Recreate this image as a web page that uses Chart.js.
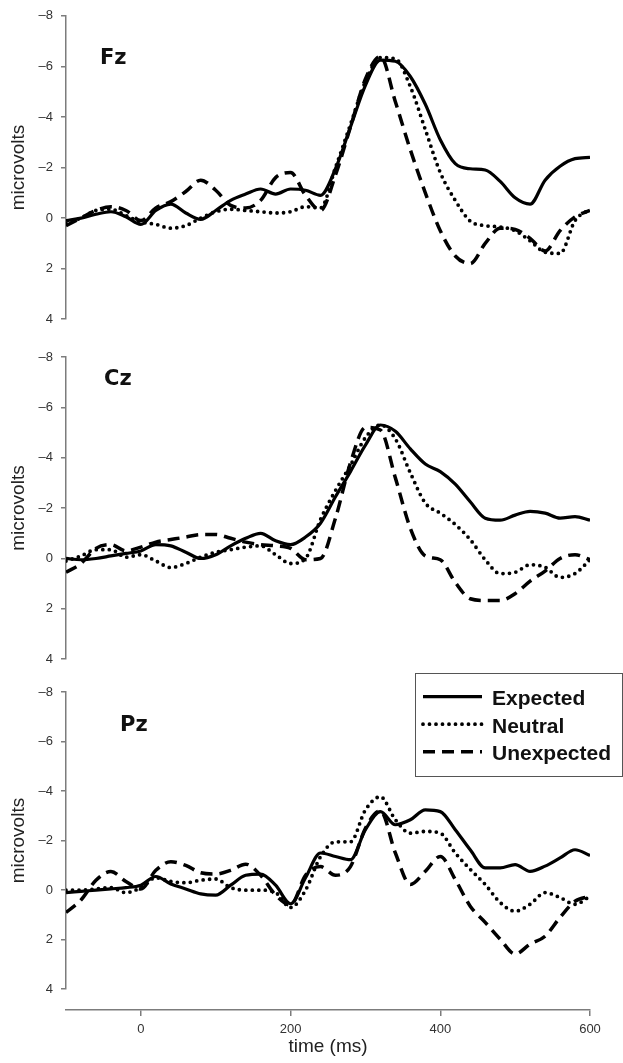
<!DOCTYPE html>
<html>
<head>
<meta charset="utf-8">
<title>ERP waveforms at Fz, Cz and Pz</title>
<script src="https://cdn.jsdelivr.net/npm/chart.js@4.4.1/dist/chart.umd.min.js"></script>
<style>
  body { margin: 0; background: #fff; }
  #wrap { position: relative; width: 623px; height: 1063px; overflow: hidden; }
  #wrap canvas { position: absolute; left: 0; }
</style>
</head>
<body>
<div id="wrap">
  <canvas id="fz" width="623" height="335" style="top:0px"></canvas>
  <canvas id="cz" width="623" height="335" style="top:340px"></canvas>
  <canvas id="pz" width="623" height="337" style="top:668px"></canvas>
  <canvas id="timeAxis" width="623" height="58" style="top:1005px"></canvas>
</div>
<script>
// sample times in ms (one reading every 20 ms)
var times = [-100, -80, -60, -40, -20, 0, 20, 40, 60, 80, 100, 120, 140, 160, 180, 200, 220, 240,
             260, 280, 300, 320, 340, 360, 380, 400, 420, 440, 460, 480, 500, 520, 540, 560, 580, 600];

var conditions = ['Expected', 'Neutral', 'Unexpected'];
var yTicks = [-8, -6, -4, -2, 0, 2, 4];
var xTicks = [0, 200, 400, 600];

// Fz (microvolts)
var fzExpected   = [0.1, 0.0, -0.15, -0.25, -0.05, 0.25, -0.3, -0.55, -0.2, 0.05, -0.3, -0.7, -0.95, -1.15, -0.95, -1.15, -1.1, -0.9,
                    -1.95, -3.6, -5.25, -6.25, -6.2, -5.6, -4.5, -3.1, -2.15, -1.95, -1.9, -1.45, -0.8, -0.55, -1.5, -2.05, -2.35, -2.4];
var fzNeutral    = [0.2, 0.0, -0.3, -0.35, -0.1, 0.15, 0.25, 0.4, 0.3, 0.0, -0.25, -0.35, -0.3, -0.25, -0.2, -0.25, -0.45, -0.4,
                    -2.0, -3.7, -5.4, -6.35, -6.3, -5.2, -3.5, -1.8, -0.7, 0.12, 0.3, 0.35, 0.5, 0.9, 1.35, 1.4, 0.1, -0.35];
var fzUnexpected = [0.3, 0.0, -0.3, -0.45, -0.3, 0.1, -0.4, -0.65, -1.05, -1.5, -1.1, -0.5, -0.4, -0.7, -1.6, -1.8, -0.9, -0.3,
                    -1.7, -3.6, -5.5, -6.4, -4.6, -2.7, -1.0, 0.5, 1.5, 1.8, 1.0, 0.4, 0.45, 0.8, 1.3, 0.5, -0.05, -0.3];

// Cz (microvolts)
var czExpected   = [0.0, 0.05, 0.0, -0.1, -0.2, -0.3, -0.55, -0.5, -0.25, 0.0, -0.15, -0.5, -0.8, -1.0, -0.7, -0.55, -0.85, -1.4,
                    -2.45, -3.45, -4.5, -5.3, -5.05, -4.35, -3.75, -3.45, -2.95, -2.25, -1.6, -1.52, -1.72, -1.87, -1.8, -1.6, -1.66, -1.52];
var czNeutral    = [0.1, -0.1, -0.35, -0.35, -0.05, -0.15, 0.1, 0.36, 0.2, -0.05, -0.25, -0.35, -0.45, -0.5, -0.15, 0.2, 0.0, -1.55,
                    -2.7, -3.7, -4.8, -5.3, -4.75, -3.4, -2.2, -1.8, -1.35, -0.75, 0.05, 0.6, 0.55, 0.25, 0.35, 0.75, 0.6, 0.05];
var czUnexpected = [0.55, 0.2, -0.4, -0.55, -0.3, -0.45, -0.65, -0.75, -0.85, -0.95, -0.95, -0.8, -0.65, -0.55, -0.5, -0.4, 0.05, 0.0,
                    -1.6, -3.8, -5.2, -5.1, -3.2, -1.2, -0.1, 0.05, 0.95, 1.6, 1.67, 1.67, 1.4, 0.9, 0.5, 0.0, -0.15, 0.05];

// Pz (microvolts)
var pzExpected   = [0.1, 0.05, 0.0, -0.05, -0.1, -0.2, -0.55, -0.25, -0.05, 0.15, 0.2, -0.2, -0.6, -0.65, -0.2, 0.55, -0.5, -1.5,
                    -1.36, -1.23, -2.44, -3.17, -2.64, -2.84, -3.24, -3.17, -2.44, -1.63, -0.9, -0.9, -1.03, -0.76, -0.97, -1.3, -1.63, -1.4];
var pzNeutral    = [0.0, 0.0, -0.05, -0.1, 0.1, -0.1, -0.5, -0.35, -0.3, -0.4, -0.45, -0.1, 0.0, 0.0, 0.1, 0.7, 0.0, -1.35,
                    -1.95, -1.95, -3.24, -3.77, -2.84, -2.3, -2.37, -2.3, -1.5, -0.84, -0.23, 0.5, 0.85, 0.57, 0.1, 0.3, 0.57, 0.25];
var pzUnexpected = [0.9, 0.4, -0.4, -0.75, -0.35, -0.05, -0.8, -1.15, -1.0, -0.7, -0.65, -0.8, -1.05, -0.6, 0.2, 0.6, -0.6, -0.95,
                    -0.6, -0.95, -2.5, -3.2, -1.5, -0.23, -0.76, -1.36, -0.43, 0.65, 1.3, 1.98, 2.58, 2.18, 1.86, 1.1, 0.45, 0.25];

var grey = '#7c7c7c';
var sans = '"Liberation Sans", Arial, sans-serif';
var tickFont = { family: sans, size: 13 };
var titleFont = { family: sans, size: 19 };

var lineStyle = {
  Expected:   { dash: [],       cap: 'butt',  width: 3.2 },
  Neutral:    { dash: [0, 6.5], cap: 'round', width: 3.8 },
  Unexpected: { dash: [12, 7],  cap: 'butt',  width: 3.5 }
};

function toPoints(values) {
  return times.map(function(t, i) { return { x: t, y: values[i] }; });
}

// Fz / Cz / Pz written inside each plot
var panelLabelPlugin = {
  id: 'panelLabel',
  afterDraw: function(chart, args, opts) {
    if (!opts.text) return;
    var ctx = chart.ctx;
    ctx.save();
    ctx.font = 'bold 21px "DejaVu Sans"';
    ctx.fillStyle = '#111';
    ctx.textBaseline = 'alphabetic';
    ctx.fillText(opts.text, opts.x, opts.y);
    ctx.restore();
  }
};

// boxed legend with line samples (dash patterns from the datasets)
var lineLegendPlugin = {
  id: 'lineLegend',
  afterDraw: function(chart, args, opts) {
    if (!opts.show) return;
    var ctx = chart.ctx;
    ctx.save();
    ctx.strokeStyle = '#555';
    ctx.lineWidth = 1;
    ctx.strokeRect(opts.left + 0.5, opts.top + 0.5, opts.width, opts.height);
    chart.data.datasets.forEach(function(ds, i) {
      var y = opts.top + opts.firstRow + i * opts.rowGap;
      ctx.beginPath();
      ctx.setLineDash(ds.borderDash || []);
      ctx.lineCap = ds.borderCapStyle || 'butt';
      ctx.lineWidth = ds.borderWidth;
      ctx.strokeStyle = ds.borderColor;
      ctx.moveTo(opts.left + 8, y);
      ctx.lineTo(opts.left + 67, y);
      ctx.stroke();
      ctx.setLineDash([]);
      ctx.font = 'bold 21px ' + sans;
      ctx.fillStyle = '#111';
      ctx.textBaseline = 'alphabetic';
      ctx.fillText(ds.label, opts.left + 77, y + 8.3);
    });
    ctx.restore();
  }
};

Chart.register(panelLabelPlugin, lineLegendPlugin);
Chart.defaults.font.family = sans;

function makePanel(id, name, series, pad, labelPos, legend) {
  var datasets = conditions.map(function(c, i) {
    var st = lineStyle[c];
    return {
      label: c,
      data: toPoints(series[i]),
      borderColor: '#000',
      borderWidth: st.width,
      borderDash: st.dash,
      borderCapStyle: st.cap,
      pointRadius: 0,
      fill: false,
      cubicInterpolationMode: 'monotone'
    };
  });

  return new Chart(document.getElementById(id), {
    type: 'line',
    data: { datasets: datasets },
    options: {
      responsive: false,
      animation: false,
      layout: { padding: { left: 0, right: 33, top: pad.top, bottom: pad.bottom } },
      plugins: {
        legend: { display: false },
        tooltip: { enabled: false },
        panelLabel: { text: name, x: labelPos.x, y: labelPos.y },
        lineLegend: legend || { show: false }
      },
      scales: {
        x: { type: 'linear', min: -100, max: 600, display: false },
        y: {
          type: 'linear',
          reverse: true,
          min: -8,
          max: 4,
          afterBuildTicks: function(s) { s.ticks = yTicks.map(function(v) { return { value: v }; }); },
          afterFit: function(s) { s.width = 66; },
          ticks: {
            font: tickFont,
            color: '#333',
            padding: 8,
            callback: function(v) { return v < 0 ? '\u2013' + Math.abs(v) : String(v); }
          },
          grid: { drawOnChartArea: false, drawTicks: true, tickLength: 5, color: grey, lineWidth: 1.5 },
          border: { display: true, color: grey, width: 1.5 },
          title: { display: true, text: 'microvolts', font: titleFont, color: '#222', padding: { top: 7, bottom: 0 } }
        }
      }
    }
  });
}

makePanel('fz', 'Fz', [fzExpected, fzNeutral, fzUnexpected], { top: 15, bottom: 12 }, { x: 100, y: 64 });
makePanel('cz', 'Cz', [czExpected, czNeutral, czUnexpected], { top: 17, bottom: 12 }, { x: 104, y: 45 });
makePanel('pz', 'Pz', [pzExpected, pzNeutral, pzUnexpected], { top: 24, bottom: 14 }, { x: 120, y: 62.7 },
  { show: true, left: 415, top: 5, width: 207, height: 103, firstRow: 23.7, rowGap: 27.5 });

// shared time axis below the last panel
new Chart(document.getElementById('timeAxis'), {
  type: 'line',
  data: { datasets: [] },
  options: {
    responsive: false,
    animation: false,
    layout: { padding: { left: 66, right: 33, top: 0, bottom: 0 } },
    plugins: { legend: { display: false }, tooltip: { enabled: false } },
    scales: {
      x: {
        type: 'linear',
        min: -100,
        max: 600,
        afterBuildTicks: function(s) { s.ticks = xTicks.map(function(v) { return { value: v }; }); },
        afterFit: function(s) { s.height = 53; },
        ticks: { font: tickFont, color: '#333', padding: 6, maxRotation: 0 },
        grid: { drawOnChartArea: false, drawTicks: true, tickLength: 6, color: grey, lineWidth: 1.5 },
        border: { display: true, color: grey, width: 1.5 },
        title: { display: true, text: 'time (ms)', font: titleFont, color: '#222', padding: { top: 0, bottom: 5 } }
      },
      y: { display: false, min: -8, max: 4 }
    }
  }
});
</script>
</body>
</html>
